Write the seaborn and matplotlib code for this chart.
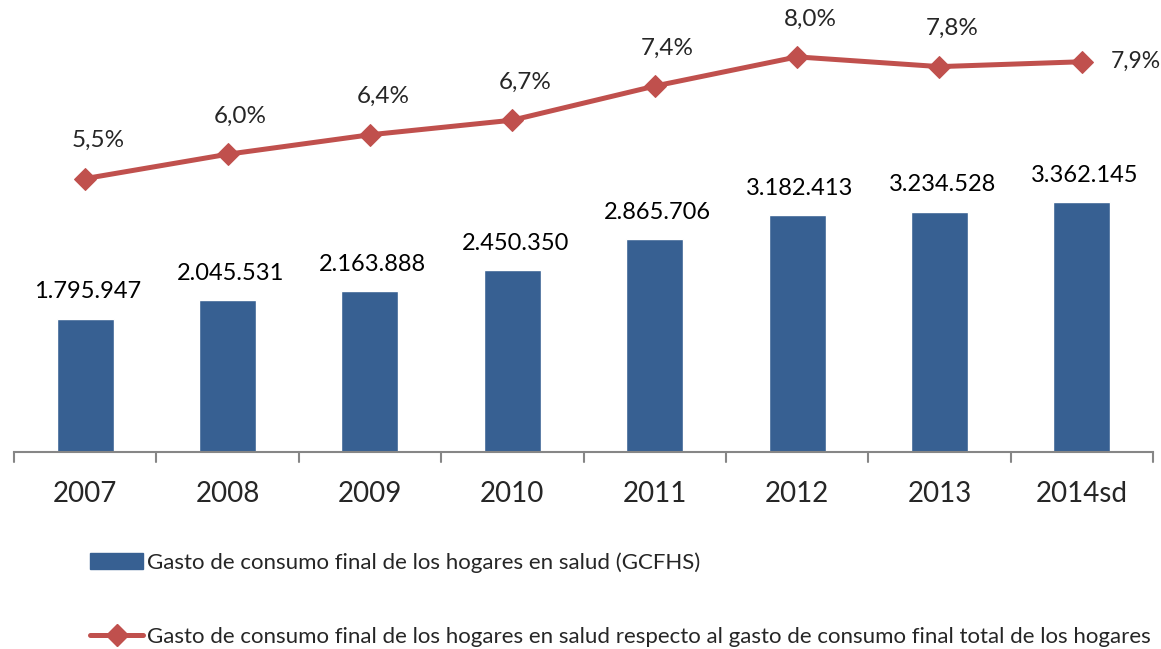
import numpy as np
import pandas as pd
import matplotlib
matplotlib.use('Agg')
import matplotlib.pyplot as plt
import seaborn as sns
from matplotlib.patches import Patch
from matplotlib.lines import Line2D

years = ['2007', '2008', '2009', '2010', '2011', '2012', '2013', '2014sd']
gcfhs = [1795947, 2045531, 2163888, 2450350, 2865706, 3182413, 3234528, 3362145]
share = [5.5, 6.0, 6.4, 6.7, 7.4, 8.0, 7.8, 7.9]

bar_color = '#376092'
line_color = '#C0504D'


def fmt_thousands(v):
    return f'{v:,}'.replace(',', '.')


def fmt_pct(v):
    return f'{v:.1f}%'.replace('.', ',')


sns.set_style('white')
plt.rcParams['font.family'] = ['Lato', 'DejaVu Sans']

df = pd.DataFrame({'year': years, 'gcfhs': gcfhs, 'share': share})

fig = plt.figure(figsize=(11.61, 6.49), dpi=100)
ax = fig.add_axes([14 / 1161, 1 - 452 / 649, (1153 - 14) / 1161, 446 / 649])

sns.barplot(data=df, x='year', y='gcfhs', color=bar_color, width=0.4,
            saturation=1, ax=ax)
ax.set_ylim(0, 6.0e6)
ax.set_xlim(-0.5, len(years) - 0.5)

# value labels above the bars
for i, v in enumerate(gcfhs):
    ax.text(i + 0.02, v + 0.36e6, fmt_thousands(v), ha='center', va='center',
            fontsize=17, color='black')

ax2 = ax.twinx()
sns.lineplot(x=np.arange(len(years)), y=share, color=line_color, lw=3.6,
             marker='D', markersize=11, markeredgecolor=line_color, ax=ax2)
ax2.set_ylim(-0.115, 9.045)

for i, v in enumerate(share):
    if i == len(share) - 1:
        ax2.text(i + 0.2, v, fmt_pct(v), ha='left', va='center',
                 fontsize=16.5)
    else:
        ax2.text(i + 0.09, v + 0.78, fmt_pct(v), ha='center', va='center',
                 fontsize=17.5)

for a in (ax, ax2):
    a.set_yticks([])
    a.set_ylabel('')
    for s in ['top', 'left', 'right', 'bottom']:
        a.spines[s].set_visible(False)

ax.spines['bottom'].set_visible(True)
ax.spines['bottom'].set_color('#868686')
ax.spines['bottom'].set_linewidth(1.5)
ax.set_xlabel('')
ax.set_xticks(np.arange(len(years)))
ax.set_xticklabels(years, fontsize=20)
ax.tick_params(axis='x', length=0, pad=21)
for b in np.arange(len(years) + 1) - 0.5:
    ax.plot([b, b], [0, -0.13e6], color='#868686', lw=1.5, clip_on=False)

handles = [Patch(facecolor=bar_color, edgecolor=bar_color),
           Line2D([0], [0], color=line_color, lw=3.6, marker='D', markersize=11)]
labels = ['Gasto de consumo final de los hogares en salud (GCFHS)',
          'Gasto de consumo final de los hogares en salud respecto al gasto de consumo final total de los hogares']
fig.legend(handles, labels, loc='upper left', bbox_to_anchor=(70 / 1161, 1 - 532 / 649),
           frameon=False, fontsize=16, labelspacing=2.45, handlelength=2.4,
           handletextpad=0.15, handleheight=0.7)

fig.savefig('out.png', dpi=100)
